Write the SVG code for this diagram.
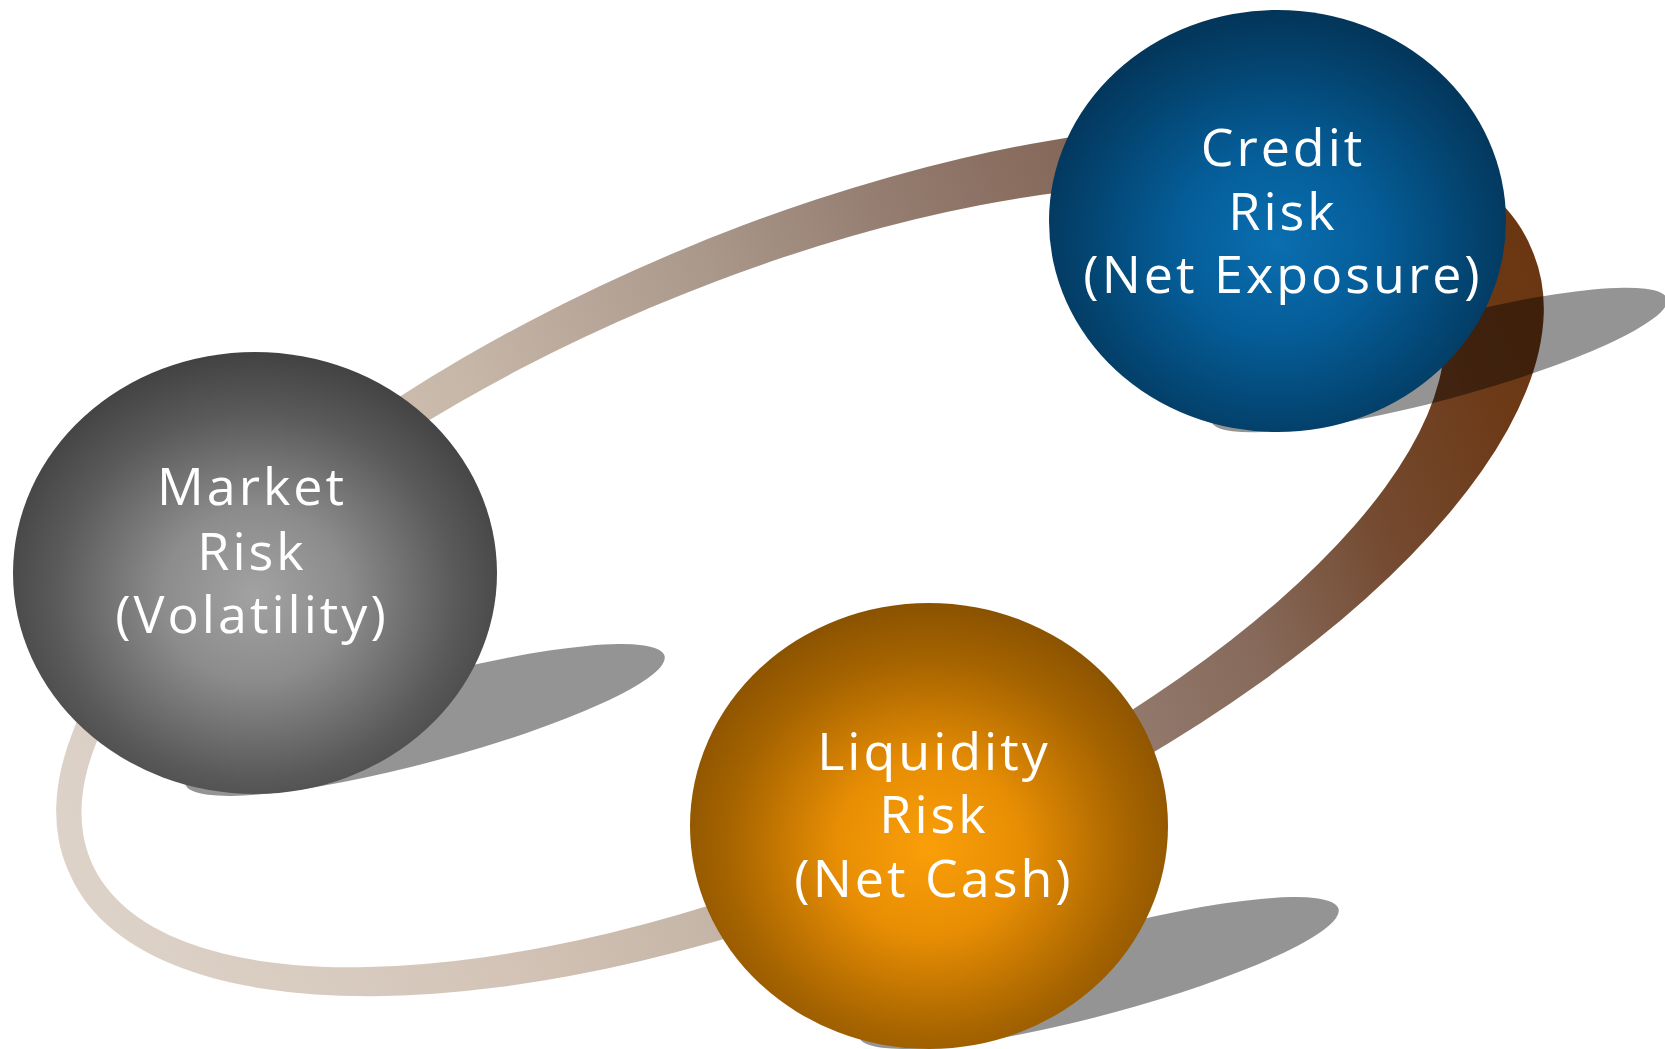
<svg xmlns="http://www.w3.org/2000/svg" width="1665" height="1049" viewBox="0 0 1665 1049">
<defs>
  <linearGradient id="ringGrad" gradientUnits="userSpaceOnUse" x1="100" y1="900" x2="1540" y2="300">
    <stop offset="0" stop-color="#ddd2c8"/>
    <stop offset="0.22" stop-color="#d3c4b7"/>
    <stop offset="0.35" stop-color="#c6b6a8"/>
    <stop offset="0.52" stop-color="#a9978a"/>
    <stop offset="0.65" stop-color="#927a6d"/>
    <stop offset="0.75" stop-color="#86695a"/>
    <stop offset="0.85" stop-color="#744a30"/>
    <stop offset="0.95" stop-color="#6d3a17"/>
    <stop offset="1" stop-color="#6b3712"/>
  </linearGradient>
  <radialGradient id="gMarket" cx="0.5" cy="0.55" r="0.55">
    <stop offset="0" stop-color="#a2a2a2"/>
    <stop offset="0.35" stop-color="#8c8c8c"/>
    <stop offset="0.75" stop-color="#5a5a5a"/>
    <stop offset="1" stop-color="#424242"/>
  </radialGradient>
  <radialGradient id="gCredit" cx="0.5" cy="0.55" r="0.55">
    <stop offset="0" stop-color="#0a6eb0"/>
    <stop offset="0.4" stop-color="#055d98"/>
    <stop offset="0.8" stop-color="#03426d"/>
    <stop offset="1" stop-color="#033559"/>
  </radialGradient>
  <radialGradient id="gLiquidity" cx="0.5" cy="0.55" r="0.55">
    <stop offset="0" stop-color="#fa9e08"/>
    <stop offset="0.35" stop-color="#e88e04"/>
    <stop offset="0.75" stop-color="#a86500"/>
    <stop offset="1" stop-color="#8a5200"/>
  </radialGradient>
</defs>
<style>
  .label { font-family: "Open Sans", "Liberation Sans", sans-serif; font-size: 52px; fill: #ffffff; text-anchor: middle; letter-spacing: 3px; }
  .shadow { fill: #000000; fill-opacity: 0.42; }
</style>

<g id="connectors">
  <path id="ring" fill="url(#ringGrad)" fill-rule="evenodd"
        d="M 68.2 870.6 A 795 330 -23 1 1 1531.8 249.4 A 795 330 -23 1 1 68.2 870.6 Z
           M 91 861.2 A 730 291 -23 1 1 1435 290.8 A 730 291 -23 1 1 91 861.2 Z"/>
</g>

<g id="market-risk">
  <ellipse class="shadow" cx="0" cy="0" rx="248" ry="42" transform="translate(425 720) rotate(-15)"/>
  <ellipse cx="255" cy="573" rx="242" ry="221" fill="url(#gMarket)"/>
  <text class="label" x="252"><tspan x="252" y="505">Market</tspan><tspan x="252" y="570">Risk</tspan><tspan x="252" y="633">(Volatility)</tspan></text>
</g>

<g id="credit-risk">
  <ellipse class="shadow" cx="0" cy="0" rx="236" ry="40" transform="translate(1439 360) rotate(-15)"/>
  <ellipse cx="1277.5" cy="221" rx="228.5" ry="211" fill="url(#gCredit)"/>
  <text class="label" x="1283"><tspan x="1283" y="166">Credit</tspan><tspan x="1283" y="230">Risk</tspan><tspan x="1283" y="293">(Net Exposure)</tspan></text>
</g>

<g id="liquidity-risk">
  <ellipse class="shadow" cx="0" cy="0" rx="248" ry="42" transform="translate(1099 973) rotate(-15)"/>
  <ellipse cx="929" cy="826" rx="239" ry="223" fill="url(#gLiquidity)"/>
  <text class="label" x="934"><tspan x="934" y="770">Liquidity</tspan><tspan x="934" y="833">Risk</tspan><tspan x="934" y="897">(Net Cash)</tspan></text>
</g>
</svg>
